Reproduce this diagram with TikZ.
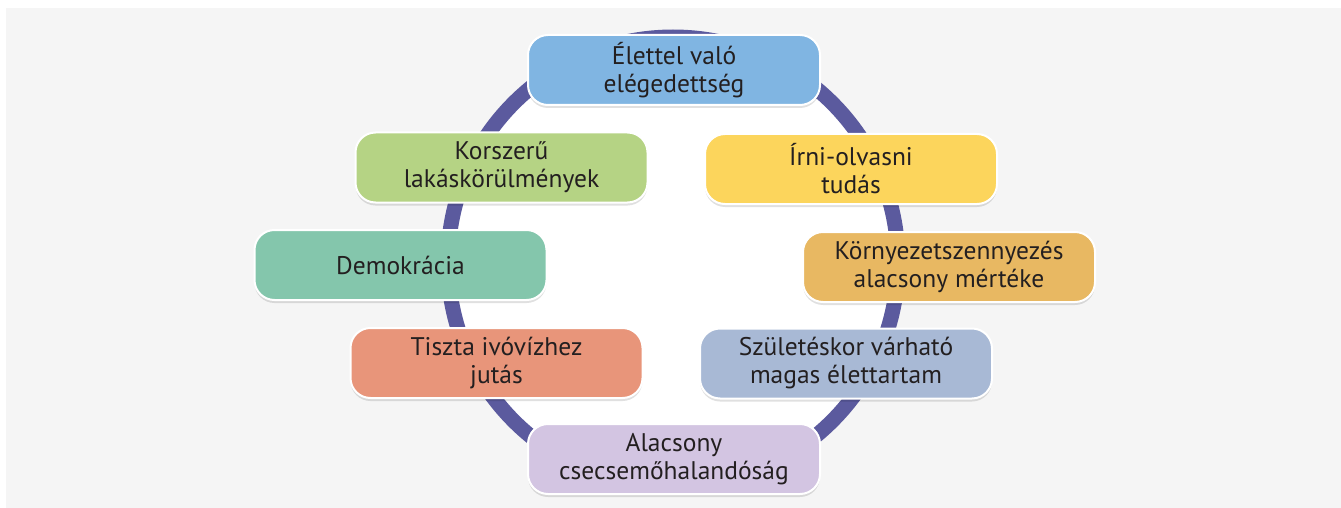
\documentclass[tikz,border=0pt]{standalone}
\usepackage{fontspec}
\setmainfont{PT Sans}
\usepackage{tikz}
\usetikzlibrary{shadows}
\usepackage{xcolor}

\definecolor{ringcol}{HTML}{5B5A9E}
\definecolor{bgcol}{HTML}{F5F5F5}
\definecolor{textcol}{HTML}{231F20}
\definecolor{colA}{HTML}{80B5E2}
\definecolor{colB}{HTML}{B5D384}
\definecolor{colC}{HTML}{FCD55C}
\definecolor{colD}{HTML}{84C6AC}
\definecolor{colE}{HTML}{E8B862}
\definecolor{colF}{HTML}{E8957A}
\definecolor{colG}{HTML}{A8B9D5}
\definecolor{colH}{HTML}{D3C5E2}

\tikzset{
    goalbox/.style={draw=white, line width=2pt, rounded corners=20pt,
        minimum width=292pt, minimum height=70pt, align=center,
        text=textcol, font=\fontsize{25.5}{28}\selectfont,
        drop shadow={shadow xshift=0pt, shadow yshift=-3pt, opacity=0.12, fill=black}}
}

\begin{document}
\begin{tikzpicture}[x=1pt, y=-1pt]

    % 1. Frame and background
    \useasboundingbox (0,0) rectangle (1341,508);
    \fill[white] (0,0) rectangle (1341,508);
    \fill[bgcol] (6,8) rectangle (1341,508);

    % 2. The ring behind the boxes
    \coordinate (O) at (673,262);
    \fill[white] (O) circle (225);
    \draw[ringcol, line width=15pt] (O) circle (225);

    % 3. The eight boxes round the ring
    \node[goalbox, fill=colA] (elet)  at (674,70)    {Élettel való\\elégedettség};
    \node[goalbox, fill=colB] (lakas) at (501.5,167.5) {Korszerű\\lakáskörülmények};
    \node[goalbox, fill=colC] (iras)  at (851,169)   {Írni-olvasni\\tudás};
    \node[goalbox, fill=colD] (demo)  at (400.5,265) {Demokrácia};
    \node[goalbox, fill=colE] (korny) at (949,267)   {Környezetszennyezés\\alacsony mértéke};
    \node[goalbox, fill=colF] (viz)   at (496.5,363) {Tiszta ivóvízhez\\jutás};
    \node[goalbox, fill=colG] (szul)  at (846,363.5) {Születéskor várható\\magas élettartam};
    \node[goalbox, fill=colH] (csec)  at (674,459)   {Alacsony\\csecsemőhalandóság};

\end{tikzpicture}
\end{document}
